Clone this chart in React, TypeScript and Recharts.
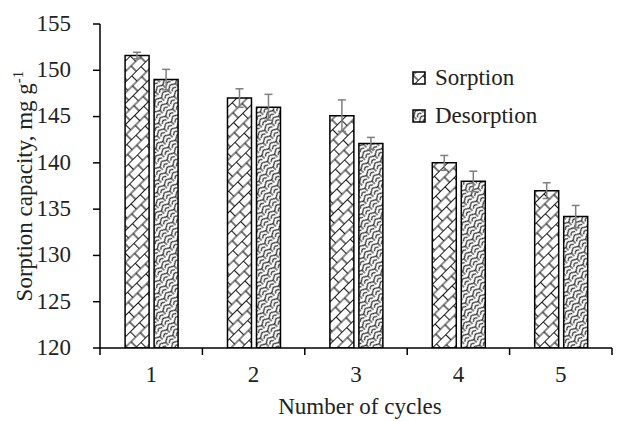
import React from 'react';
import { BarChart, Bar, XAxis, YAxis, ErrorBar } from 'recharts';

// Sorption / desorption capacity per regeneration cycle (mg g-1) with standard deviations
const cycles = ['1', '2', '3', '4', '5'];
const sorption = [151.6, 147.0, 145.1, 140.0, 137.0];
const sorptionErr = [0.35, 1.0, 1.7, 0.8, 0.85];
const desorption = [149.0, 146.0, 142.1, 138.0, 134.2];
const desorptionErr = [1.1, 1.4, 0.65, 1.1, 1.2];
const yTicks = [120, 125, 130, 135, 140, 145, 150, 155];
const seriesNames = ['Sorption', 'Desorption'];

const data = cycles.map((c, i) => ({
  cycle: c,
  sorption: sorption[i],
  sorptionErr: sorptionErr[i],
  desorption: desorption[i],
  desorptionErr: desorptionErr[i],
}));

const W = 627;
const H = 413;
const margin = { top: 16, right: 23, left: 0, bottom: 0 };
const yAxisWidth = 92;
const xAxisHeight = 73;
const plotWidth = W - margin.left - margin.right - yAxisWidth;
const plotHeight = H - margin.top - margin.bottom - xAxisHeight;
const band = plotWidth / cycles.length;
const FONT = '"Liberation Serif", "Times New Roman", serif';
const FS = 23;
const TICK_SIZE = 7;
const TICK_MARGIN = 0;

function Patterns() {
  return (
    <defs>
      {/* diagonal brick hatch */}
      <pattern id="patSorption" width="13" height="15" patternUnits="userSpaceOnUse" patternTransform="rotate(-45)">
        <rect width="13" height="15" fill="#fff" />
        <path d="M0,0.5 H13 M0,8 H13 M0.5,0 V8 M7,8 V15" stroke="#1a1a1a" strokeWidth="1.2" fill="none" />
      </pattern>
      {/* small herringbone weave */}
      <pattern id="patDesorption" width="10" height="8" patternUnits="userSpaceOnUse" patternTransform="rotate(-45)">
        <rect width="10" height="8" fill="#fff" />
        <path d="M0,1 L5,4 L10,1 M0,5 L3,7 M5,4 V8 M7,7 L10,5" stroke="#222" strokeWidth="1.1" fill="none" />
      </pattern>
    </defs>
  );
}

function XTick(props: any) {
  const { x, y, payload, index } = props;
  const axisY = y - TICK_SIZE - TICK_MARGIN;
  const left = x - band / 2;
  return (
    <g>
      <line x1={left} y1={axisY} x2={left} y2={axisY + TICK_SIZE} stroke="#000" strokeWidth={1.5} />
      {index === cycles.length - 1 && (
        <line x1={x + band / 2} y1={axisY} x2={x + band / 2} y2={axisY + TICK_SIZE} stroke="#000" strokeWidth={1.5} />
      )}
      <text x={x} y={axisY + 34} textAnchor="middle" fontFamily={FONT} fontSize={FS} fill="#222">
        {payload.value}
      </text>
    </g>
  );
}

function YTick(props: any) {
  const { x, y, payload } = props;
  return (
    <text x={x - 18} y={y} dy="0.3em" textAnchor="end" fontFamily={FONT} fontSize={FS} fill="#222">
      {payload.value}
    </text>
  );
}

function YLabel() {
  const cx = 24;
  const cy = margin.top + plotHeight / 2;
  return (
    <text
      transform={`translate(${cx},${cy}) rotate(-90)`}
      textAnchor="middle"
      fontFamily={FONT}
      fontSize={FS}
      fill="#222"
    >
      Sorption capacity, mg g
      <tspan dy="-9" fontSize={15}>-1</tspan>
    </text>
  );
}

function XLabel() {
  const cx = margin.left + yAxisWidth + plotWidth / 2 + 4;
  return (
    <text x={cx} y={H - 7} textAnchor="middle" fontFamily={FONT} fontSize={FS} fill="#222">
      Number of cycles
    </text>
  );
}

function LegendBox() {
  const fills = ['url(#patSorption)', 'url(#patDesorption)'];
  const x0 = 405;
  const y0 = 77;
  const rowH = 38;
  return (
    <g>
      {seriesNames.map((name, i) => (
        <g key={name} transform={`translate(${x0},${y0 + i * rowH})`}>
          <rect x={0} y={-13} width={12} height={12} fill={fills[i]} stroke="#000" strokeWidth={1.5} />
          <text x={22} y={0} fontFamily={FONT} fontSize={FS} fill="#222">
            {name}
          </text>
        </g>
      ))}
    </g>
  );
}

export default function App() {
  return (
    <BarChart
      width={W}
      height={H}
      data={data}
      margin={margin}
      barCategoryGap="24.5%"
      barGap={5}
      style={{ background: '#fff' }}
    >
      <Patterns />
      <XAxis
        dataKey="cycle"
        height={xAxisHeight}
        tickLine={false}
        tickSize={TICK_SIZE}
        tickMargin={TICK_MARGIN}
        axisLine={{ stroke: '#000', strokeWidth: 1.5 }}
        tick={<XTick />}
        interval={0}
      />
      <YAxis
        width={yAxisWidth}
        domain={[120, 155]}
        ticks={yTicks}
        allowDataOverflow
        tickSize={7}
        tickMargin={4}
        tickLine={{ stroke: '#000', strokeWidth: 1.5 }}
        axisLine={{ stroke: '#000', strokeWidth: 1.5 }}
        tick={<YTick />}
      />
      <Bar dataKey="sorption" name={seriesNames[0]} fill="url(#patSorption)" stroke="#000" strokeWidth={1.5} isAnimationActive={false}>
        <ErrorBar dataKey="sorptionErr" width={4} stroke="#7f7f7f" strokeWidth={1.5} direction="y" />
      </Bar>
      <Bar dataKey="desorption" name={seriesNames[1]} fill="url(#patDesorption)" stroke="#000" strokeWidth={1.5} isAnimationActive={false}>
        <ErrorBar dataKey="desorptionErr" width={4} stroke="#7f7f7f" strokeWidth={1.5} direction="y" />
      </Bar>
      <YLabel />
      <XLabel />
      <LegendBox />
    </BarChart>
  );
}
